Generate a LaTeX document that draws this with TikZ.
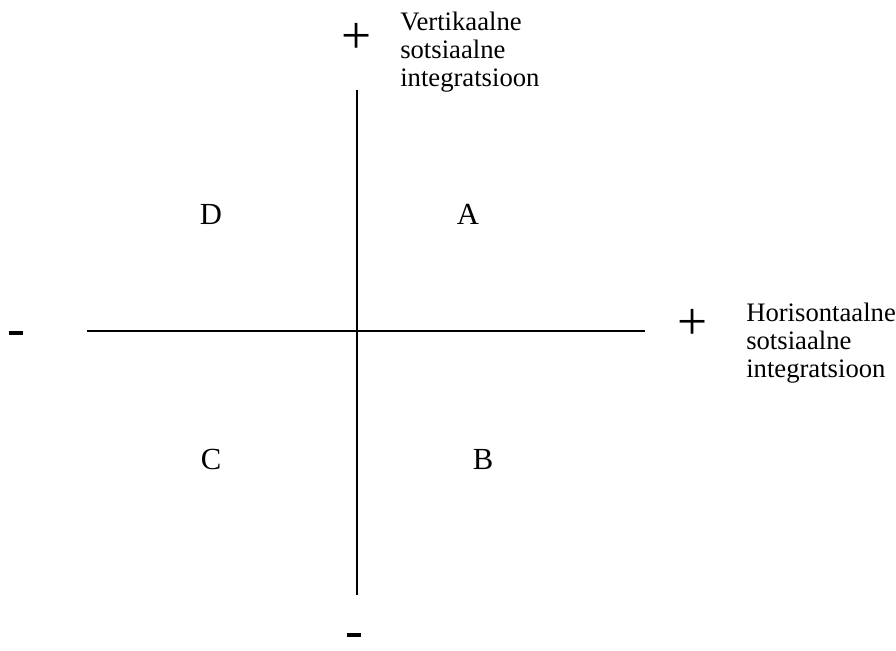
\documentclass[tikz,border=0pt]{standalone}
\usepackage{fontspec}
\setmainfont{Liberation Serif}

\begin{document}
\begin{tikzpicture}[x=0.75pt,y=-0.75pt,
  axis/.style={line width=1.3pt},
  quad/.style={font=\fontsize{23}{23}\selectfont, inner sep=0pt, anchor=base},
  axislabel/.style={font=\fontsize{20}{21}\selectfont, align=left, inner sep=0pt, anchor=north west},
  plussign/.style={font=\fontsize{40}{40}\selectfont, inner sep=0pt},
  minussign/.style={fill=black, minimum width=10.5pt, minimum height=3pt, inner sep=0pt}]
  \useasboundingbox (0,0) rectangle (896,650);
  \coordinate (vtop) at (357,90);
  \coordinate (vbot) at (357,595);
  \coordinate (hleft) at (87,331);
  \coordinate (hright) at (645,331);
  \draw[axis] (vtop) -- (vbot);
  \draw[axis] (hleft) -- (hright);
  \node[plussign] (vplus) at (357,38) {+};
  \node[plussign] (hplus) at (693,324) {+};
  \node[minussign] (hminus) at (16,333) {};
  \node[minussign] (vminus) at (354,635) {};
  \node[axislabel] (vlabel) at (400,12) {Vertikaalne\\sotsiaalne\\integratsioon};
  \node[axislabel] (hlabel) at (746,303) {Horisontaalne\\sotsiaalne\\integratsioon};
  \node[quad] (qd) at (211,224) {D};
  \node[quad] (qa) at (468,224) {A};
  \node[quad] (qc) at (211,469) {C};
  \node[quad] (qb) at (483,469) {B};
\end{tikzpicture}
\end{document}
